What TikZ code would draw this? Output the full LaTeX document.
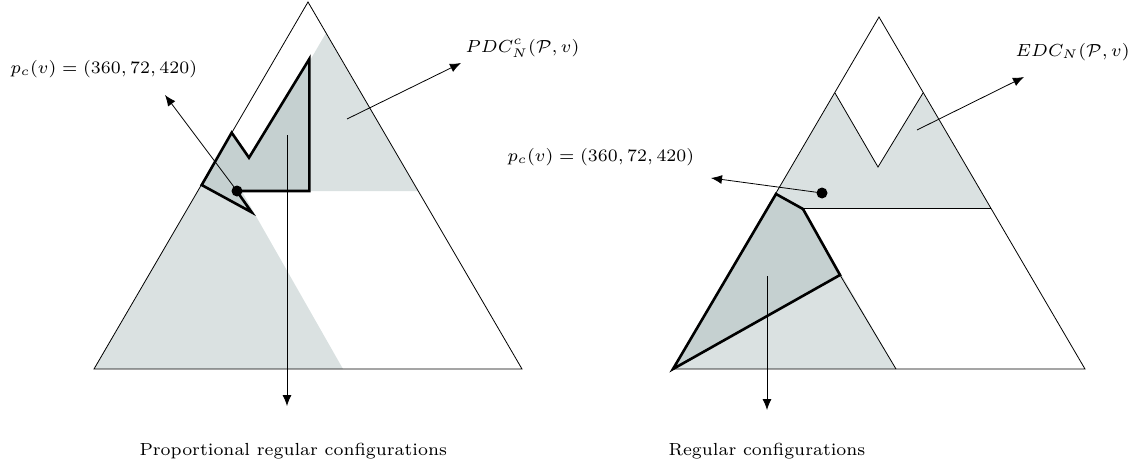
\documentclass[tikz,border=0pt]{standalone}
\usepackage{tikz}
\usetikzlibrary{arrows.meta, positioning}
\definecolor{cfglight}{HTML}{DAE1E1}
\definecolor{cfgdark}{HTML}{C5D0D0}

\begin{document}
\begin{tikzpicture}[x=1pt, y=-1pt,
  outline/.style={draw=black, line width=0.8pt, line join=miter},
  region/.style={fill=cfglight},
  bestset/.style={fill=cfgdark, draw=black, line width=2.6pt, line join=miter},
  pointer/.style={-{Latex[length=11pt, width=9pt]}, line width=0.8pt},
  vertexdot/.style={circle, fill=black, inner sep=0pt, minimum size=11pt},
  mlbl/.style={font=\scriptsize, scale=2.5, inner sep=0pt, anchor=west},
  figcaption/.style={font=\scriptsize, scale=2.5, inner sep=0pt, anchor=base west},
]
  \useasboundingbox (0,0) rectangle (1136,463);

  % proportional regular configurations
  \fill[region] (326,33) -- (418,191) -- (234,191) -- cycle;
  \fill[region] (94,369) -- (343,369) -- (220,153) -- cycle;
  \filldraw[bestset] (201.7,185) -- (231.7,132.7) -- (249,157.7) -- (309.3,59)
    -- (309.3,191) -- (236.7,191) -- (251.7,212.3) -- cycle;
  \draw[outline] (94,369) -- (522,369) -- (308,2) -- cycle;

  \node[vertexdot] (pcL) at (237,191) {};
  \node[mlbl] (pcLlbl) at (10,69) {$p_c(v) = (360, 72, 420)$};
  \node[mlbl] (pdclbl) at (465,48) {$PDC^c_N(\mathcal{P}, v)$};
  \node[figcaption] (capL) at (139,455) {Proportional regular configurations};

  \coordinate (pcLend) at (165,95);
  \coordinate (bestLstart) at (287,135);
  \coordinate (bestLend) at (287,406);
  \coordinate (pdcstart) at (347,119);
  \coordinate (pdcend) at (461,63);
  \draw[pointer] (pcL.center) -- (pcLend);
  \draw[pointer] (bestLstart) -- (bestLend);
  \draw[pointer] (pdcstart) -- (pdcend);

  % regular configurations
  \fill[region] (835,93) -- (878,167) -- (923,93) -- (991,208) -- (767,208) -- cycle;
  \fill[region] (673,369) -- (896,369) -- (785,177) -- cycle;
  \draw[outline] (835,93) -- (878,167) -- (923,93);
  \draw[outline] (803,208) -- (991,208);
  \draw[outline] (840,275) -- (896,369);
  \filldraw[bestset] (673,369) -- (776,194) -- (803,209) -- (840,275) -- cycle;
  \draw[outline] (673,369) -- (1085,369) -- (879,17) -- cycle;

  \node[vertexdot] (pcR) at (822,193) {};
  \node[mlbl] (pcRlbl) at (507,157) {$p_c(v) = (360, 72, 420)$};
  \node[mlbl] (edclbl) at (1015,52) {$EDC_N(\mathcal{P}, v)$};
  \node[figcaption] (capR) at (668,455) {Regular configurations};

  \coordinate (pcRend) at (711,178);
  \coordinate (bestRstart) at (767,276);
  \coordinate (bestRend) at (767,410);
  \coordinate (edcstart) at (917,130);
  \coordinate (edcend) at (1024,77);
  \draw[pointer] (pcR.center) -- (pcRend);
  \draw[pointer] (bestRstart) -- (bestRend);
  \draw[pointer] (edcstart) -- (edcend);
\end{tikzpicture}
\end{document}
